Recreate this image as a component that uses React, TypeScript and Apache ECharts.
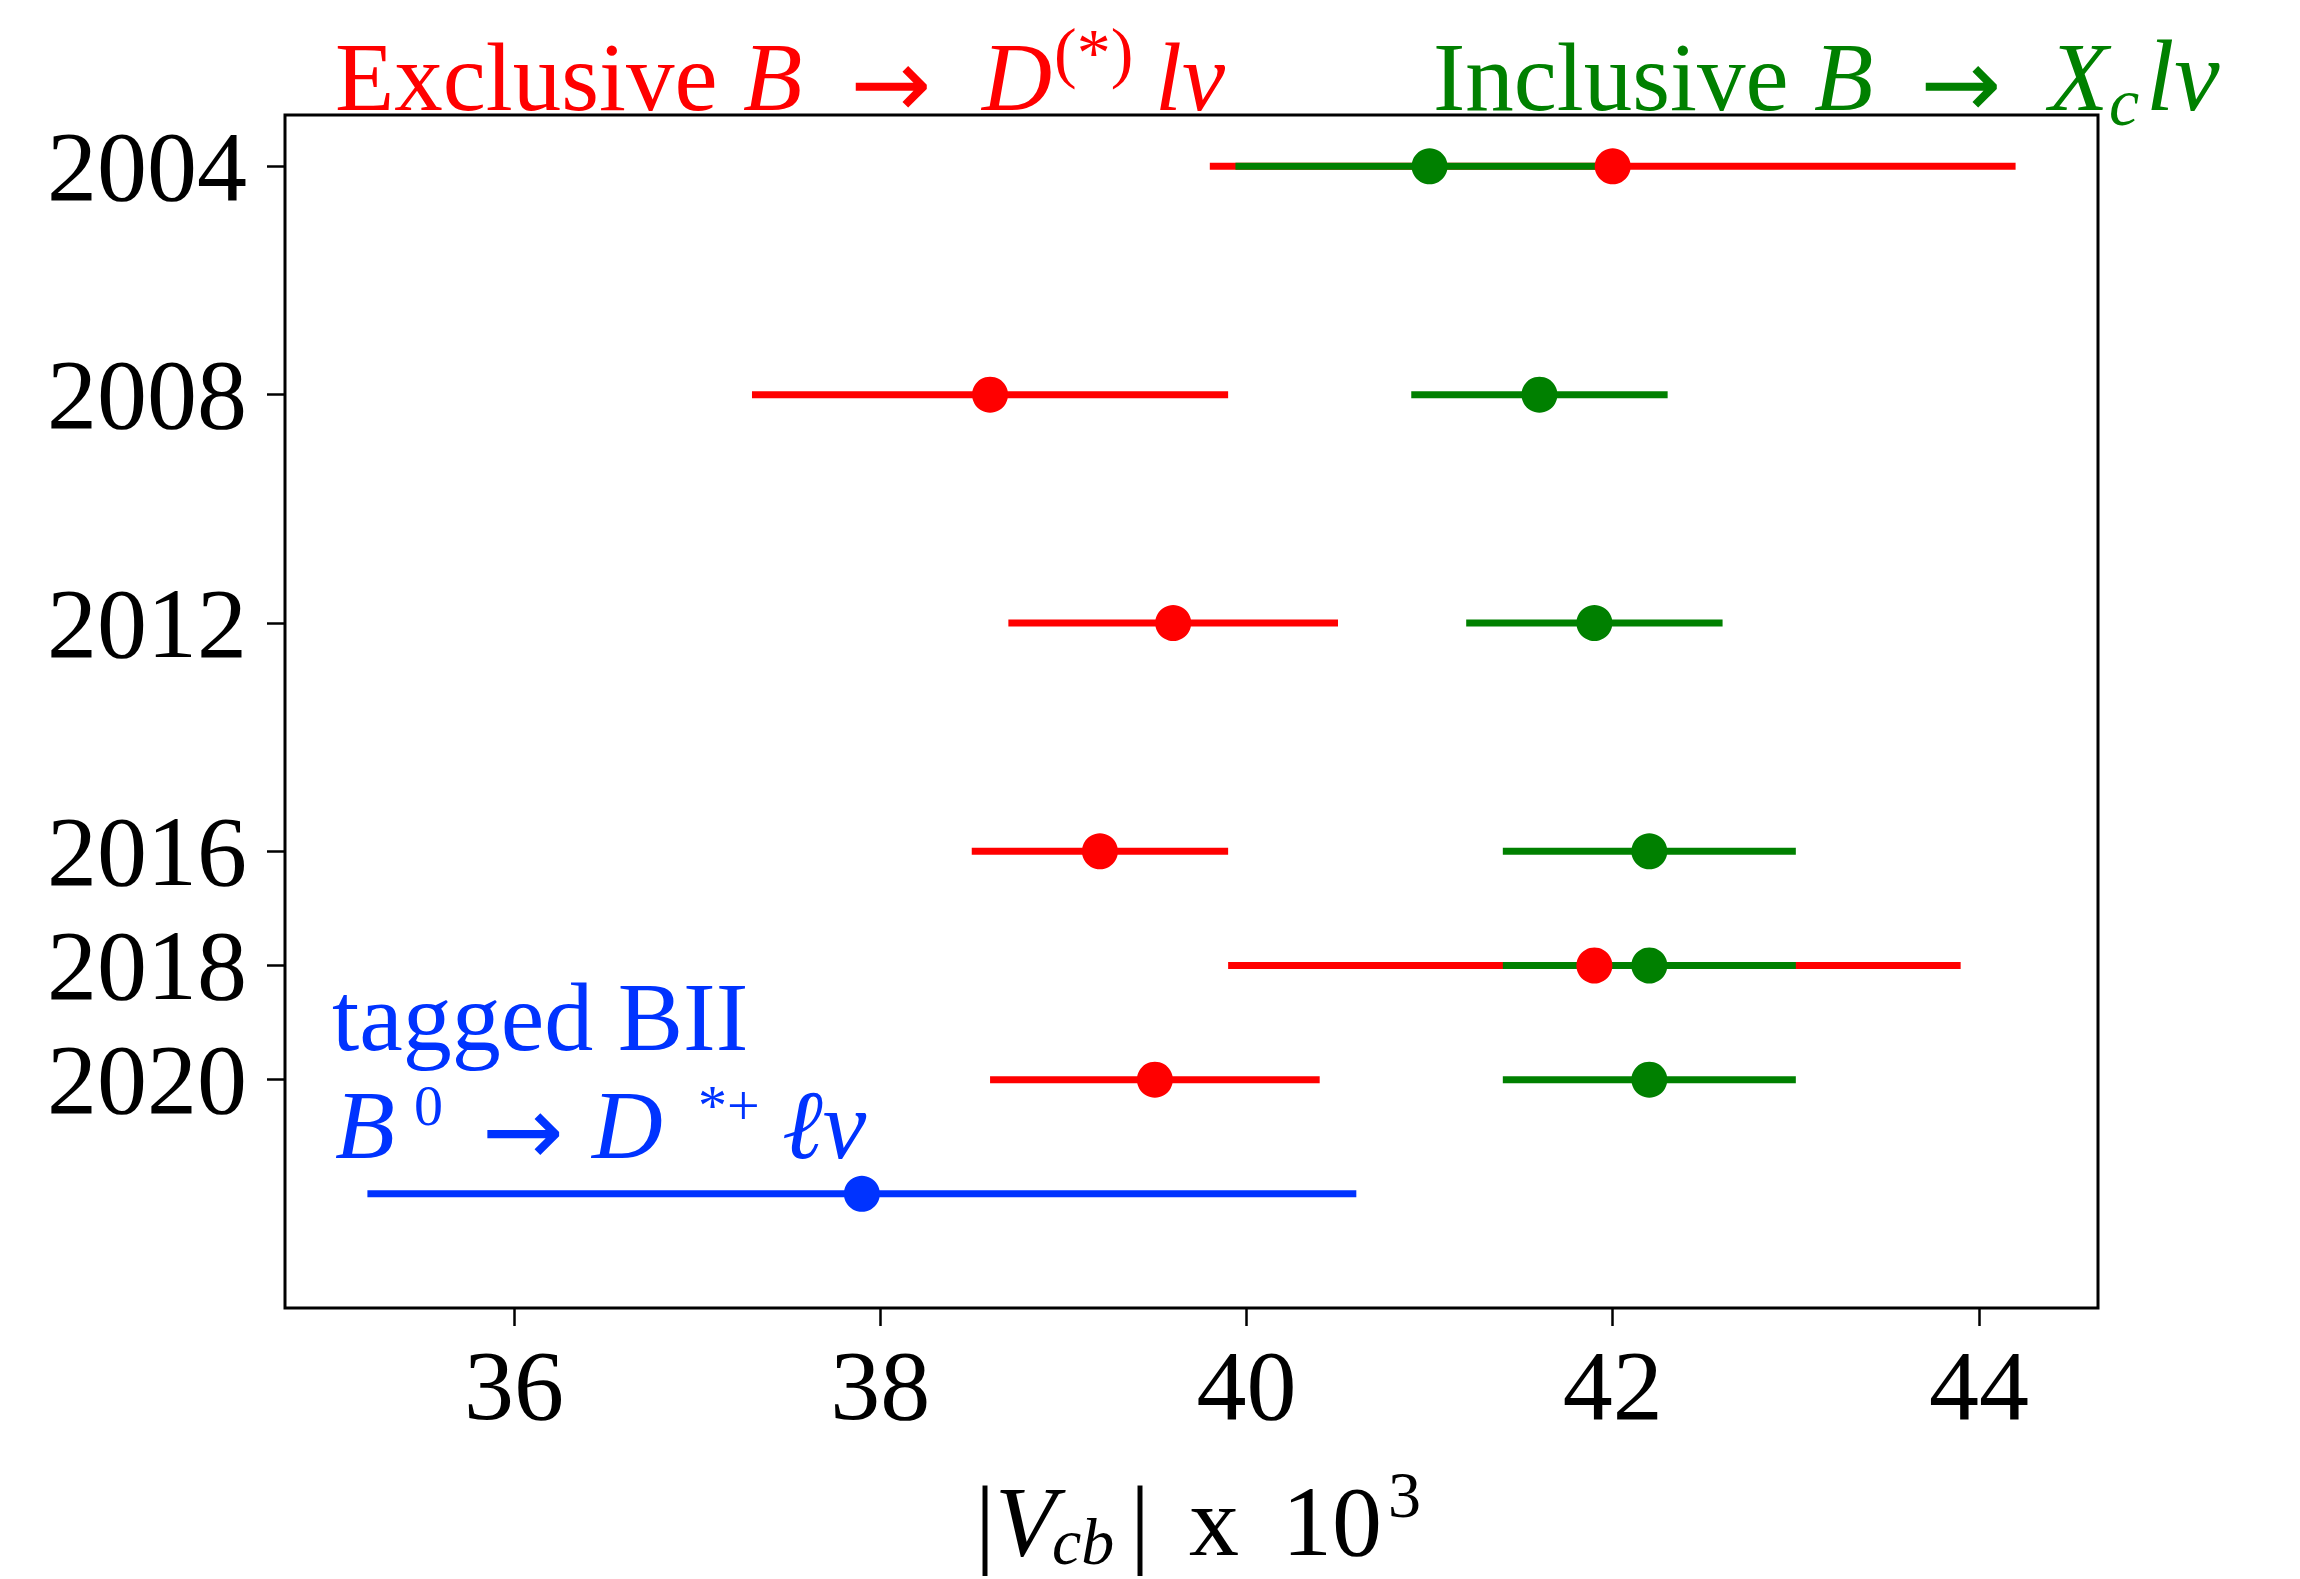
import React, { useEffect, useRef } from "react";
import * as echarts from "echarts";

// ---------- data ----------
const years = [2004, 2008, 2012, 2016, 2018, 2020];
const exclusiveCentral = [42.0, 38.6, 39.6, 39.2, 41.9, 39.5];
const exclusiveErr = [2.2, 1.3, 0.9, 0.7, 2.0, 0.9];
const inclusiveCentral = [41.0, 41.6, 41.9, 42.2, 42.2, 42.2];
const inclusiveErr = [1.06, 0.7, 0.7, 0.8, 0.8, 0.8];
const taggedYear = [2022];
const taggedCentral = [37.9];
const taggedErr = [2.7];
const xTicks = [36, 38, 40, 42, 44];
const yTicks = [2004, 2008, 2012, 2016, 2018, 2020];

const RED = "#ff0000";
const GREEN = "#008000";
const BLUE = "#0033ff";
const FONT = '"Liberation Serif", "Times New Roman", serif';
const ARROW_FONT = '"DejaVu Sans", sans-serif';

function txt(text: string, x: number, baseline: number, size: number, color: string, italic = false, family = FONT) {
  return {
    type: "text",
    x,
    y: baseline - 0.3375 * size,
    silent: true,
    style: {
      text,
      font: `${italic ? "italic " : ""}${size}px ${family}`,
      fill: color,
      textAlign: "left",
      textVerticalAlign: "middle",
      verticalAlign: "middle",
    },
  };
}

function arrow(x: number, baseline: number, size: number, color: string) {
  return txt("→", x, baseline + 6, size, color, false, ARROW_FONT);
}

function errSeries(name: string, ys: number[], c: number[], e: number[], color: string) {
  return {
    name,
    type: "custom",
    coordinateSystem: "cartesian2d",
    encode: { x: [1, 2], y: 0 },
    data: ys.map((y, i) => [y, c[i] - e[i], c[i] + e[i]]),
    renderItem: (_p: any, api: any) => {
      const y = api.value(0);
      const a = api.coord([api.value(1), y]);
      const b = api.coord([api.value(2), y]);
      return {
        type: "line",
        shape: { x1: a[0], y1: a[1], x2: b[0], y2: b[1] },
        style: { stroke: color, lineWidth: 7, lineCap: "butt" },
      };
    },
    silent: true,
  };
}

function pointSeries(name: string, ys: number[], c: number[], color: string) {
  return {
    name,
    type: "scatter",
    data: ys.map((y, i) => [c[i], y]),
    symbol: "circle",
    symbolSize: 36,
    itemStyle: { color, opacity: 1 },
    silent: true,
  };
}

export default function App() {
  const ref = useRef<HTMLDivElement>(null);
  useEffect(() => {
    if (!ref.current) return;
    const chart = echarts.init(ref.current, undefined, { renderer: "svg" });
    const axisLabelStyle = { fontSize: 100, fontFamily: FONT, color: "#000" };
    const option: any = {
      animation: false,
      backgroundColor: "#ffffff",
      grid: {
        left: 285,
        right: 202,
        top: 115,
        bottom: 271,
        show: true,
        borderColor: "#000",
        borderWidth: 3,
        backgroundColor: "transparent",
        containLabel: false,
        outerBoundsMode: "none",
      },
      xAxis: {
        type: "value",
        min: 34.75,
        max: 44.65,
        axisLine: { show: false },
        axisTick: { show: true, customValues: xTicks, length: 18, lineStyle: { color: "#000", width: 2.5 } },
        axisLabel: { customValues: xTicks, margin: 27, formatter: (v: number) => String(v), ...axisLabelStyle },
        splitLine: { show: false },
      },
      yAxis: {
        type: "value",
        inverse: true,
        min: 2003.1,
        max: 2024,
        axisLine: { show: false },
        axisTick: { show: true, customValues: yTicks, length: 18, lineStyle: { color: "#000", width: 2.5 } },
        axisLabel: { customValues: yTicks, margin: 38, formatter: (v: number) => String(v), ...axisLabelStyle },
        splitLine: { show: false },
      },
      series: [
        errSeries("Exclusive err", years, exclusiveCentral, exclusiveErr, RED),
        errSeries("Inclusive err", years, inclusiveCentral, inclusiveErr, GREEN),
        errSeries("Tagged err", taggedYear, taggedCentral, taggedErr, BLUE),
        pointSeries("Exclusive", years, exclusiveCentral, RED),
        pointSeries("Inclusive", years, inclusiveCentral, GREEN),
        pointSeries("Tagged BII", taggedYear, taggedCentral, BLUE),
      ],
      graphic: {
        elements: [
          // Exclusive title
          txt("Exclusive", 335, 110, 97, RED),
          txt("B", 743, 110, 97, RED, true),
          arrow(850, 110, 97, RED),
          txt("D", 982, 110, 97, RED, true),
          txt("(*)", 1054, 75, 68, RED),
          txt("lν", 1155, 110, 97, RED, true),
          // Inclusive title
          txt("Inclusive", 1433, 110, 97, GREEN),
          txt("B", 1814, 110, 97, GREEN, true),
          arrow(1920, 110, 97, GREEN),
          txt("X", 2049, 110, 97, GREEN, true),
          txt("c", 2109, 125, 68, GREEN, true),
          txt("lν", 2146, 110, 102, GREEN, true),
          // tagged BII annotation
          txt("tagged BII", 332, 1050, 98, BLUE),
          txt("B", 335, 1158, 98, BLUE, true),
          txt("0", 414, 1125, 58, BLUE),
          arrow(482, 1158, 98, BLUE),
          txt("D", 592, 1158, 98, BLUE, true),
          txt("*+", 698, 1125, 58, BLUE),
          txt("ℓν", 782, 1158, 98, BLUE, true),
          // x axis title
          txt("|", 975, 1555, 100, "#000"),
          txt("V", 995, 1555, 100, "#000", true),
          txt("cb", 1052, 1564, 66, "#000", true),
          txt("|", 1130, 1555, 100, "#000"),
          txt("x", 1189, 1555, 100, "#000"),
          txt("10", 1282, 1555, 100, "#000"),
          txt("3", 1388, 1517, 66, "#000"),
        ],
      },
    };
    chart.setOption(option);
    return () => chart.dispose();
  }, []);
  return (
    <div
      ref={ref}
      style={{ position: "fixed", left: 0, top: 0, width: 2300, height: 1579, background: "#fff" }}
    />
  );
}
